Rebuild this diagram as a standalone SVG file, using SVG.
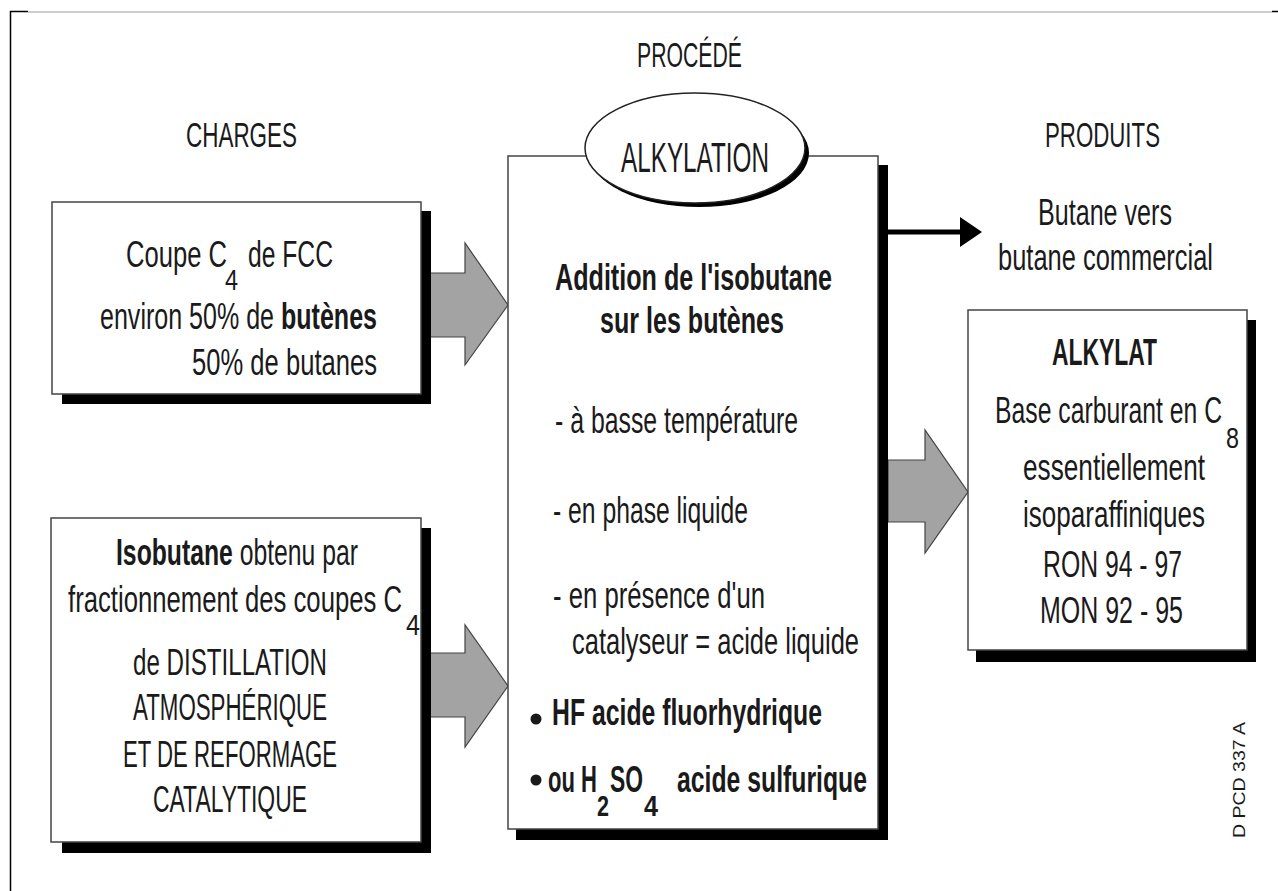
<svg xmlns="http://www.w3.org/2000/svg" width="1278" height="891" viewBox="0 0 1278 891">
<style>
.t{font-family:"Liberation Sans",Arial,sans-serif;font-size:37px;fill:#1a1a1a}
.h{font-size:35px}
.b{font-weight:bold}
.sub{font-size:30px}
.box{fill:#fff;stroke:#444;stroke-width:1.5}
.sh{fill:#000}
.garrow{fill:#a3a3a3;stroke:#444;stroke-width:1.2;stroke-linejoin:miter}
</style>
<rect x="0" y="0" width="1278" height="891" fill="#fff"/>
<g id="frame">
<line x1="28" y1="12" x2="1272" y2="12" stroke="#bdbdbd" stroke-width="1.5"/>
<line x1="10" y1="11.5" x2="28" y2="11.5" stroke="#000" stroke-width="1.5"/>
<line x1="1272" y1="11.5" x2="1278" y2="11.5" stroke="#000" stroke-width="1.5"/>
<line x1="10.5" y1="11" x2="10.5" y2="891" stroke="#000" stroke-width="1.5"/>
</g>
<g id="titles">
<text class="t h" x="637" y="67" textLength="105" lengthAdjust="spacingAndGlyphs">PROCÉDÉ</text>
<text class="t h" x="186" y="147" textLength="111" lengthAdjust="spacingAndGlyphs">CHARGES</text>
<text class="t h" x="1045" y="147" textLength="115" lengthAdjust="spacingAndGlyphs">PRODUITS</text>
</g>
<g id="connectors">
<polygon class="garrow" points="430,273 465,273 465,243 508,305 465,365 465,337 430,337"/>
<polygon class="garrow" points="430,653 465,653 465,625 508,686 465,747 465,717 430,717"/>
<polygon class="garrow" points="888,460 925,460 925,430 968,492 925,553 925,522 888,522"/>
<line x1="888" y1="232" x2="962" y2="232" stroke="#000" stroke-width="5"/>
<polygon points="960,217 982,232 960,247" fill="#000"/>
</g>
<g id="charge1">
<rect class="sh" x="62" y="211" width="369" height="193"/>
<rect class="box" x="52" y="202" width="369" height="192"/>
<text class="t"><tspan x="126" y="267" textLength="101" lengthAdjust="spacingAndGlyphs">Coupe C</tspan><tspan class="sub" x="225" y="290" textLength="13" lengthAdjust="spacingAndGlyphs">4</tspan><tspan x="248" y="267" textLength="85" lengthAdjust="spacingAndGlyphs">de FCC</tspan></text>
<text class="t" x="100" y="329" textLength="277" lengthAdjust="spacingAndGlyphs">environ 50% de <tspan class="b">butènes</tspan></text>
<text class="t" x="192" y="375" textLength="185" lengthAdjust="spacingAndGlyphs">50% de butanes</text>
</g>
<g id="charge2">
<rect class="sh" x="62" y="528" width="369" height="325"/>
<rect class="box" x="51" y="518" width="370" height="324"/>
<text class="t" x="116" y="565" textLength="242" lengthAdjust="spacingAndGlyphs"><tspan class="b">Isobutane</tspan> obtenu par</text>
<text class="t"><tspan x="68" y="612" textLength="334" lengthAdjust="spacingAndGlyphs">fractionnement des coupes C</tspan><tspan class="sub" x="406" y="635" textLength="14" lengthAdjust="spacingAndGlyphs">4</tspan></text>
<text class="t" x="133" y="675" textLength="194" lengthAdjust="spacingAndGlyphs">de DISTILLATION</text>
<text class="t" x="133" y="720" textLength="194" lengthAdjust="spacingAndGlyphs">ATMOSPHÉRIQUE</text>
<text class="t" x="123" y="767" textLength="214" lengthAdjust="spacingAndGlyphs">ET DE REFORMAGE</text>
<text class="t" x="153" y="812" textLength="154" lengthAdjust="spacingAndGlyphs">CATALYTIQUE</text>
</g>
<g id="procede">
<rect class="sh" x="516" y="165" width="372" height="675"/>
<rect class="box" x="508" y="156" width="370" height="673"/>
<ellipse cx="699" cy="153" rx="110" ry="54" fill="#000"/>
<ellipse cx="695" cy="148" rx="110" ry="55" fill="#fff" stroke="#222" stroke-width="1.5"/>
<text class="t" style="font-size:43px" x="621" y="172" textLength="148" lengthAdjust="spacingAndGlyphs">ALKYLATION</text>
<text class="t b" x="555" y="290" textLength="277" lengthAdjust="spacingAndGlyphs">Addition de l'isobutane</text>
<text class="t b" x="600" y="333" textLength="184" lengthAdjust="spacingAndGlyphs">sur les butènes</text>
<text class="t" x="555" y="433" textLength="243" lengthAdjust="spacingAndGlyphs">- à basse température</text>
<text class="t" x="553" y="523" textLength="195" lengthAdjust="spacingAndGlyphs">- en phase liquide</text>
<text class="t" x="553" y="608" textLength="212" lengthAdjust="spacingAndGlyphs">- en présence d'un</text>
<text class="t" x="572" y="654" textLength="287" lengthAdjust="spacingAndGlyphs">catalyseur = acide liquide</text>
<circle cx="536" cy="719" r="5.5" fill="#1a1a1a"/>
<text class="t b" x="552" y="725" textLength="270" lengthAdjust="spacingAndGlyphs">HF acide fluorhydrique</text>
<circle cx="536" cy="780" r="5.5" fill="#1a1a1a"/>
<text class="t b"><tspan x="548" y="792" textLength="49" lengthAdjust="spacingAndGlyphs">ou H</tspan><tspan class="sub" x="597" y="816" textLength="12" lengthAdjust="spacingAndGlyphs">2</tspan><tspan x="610" y="792" textLength="33" lengthAdjust="spacingAndGlyphs">SO</tspan><tspan class="sub" x="644" y="816" textLength="14" lengthAdjust="spacingAndGlyphs">4</tspan><tspan x="677" y="792" textLength="190" lengthAdjust="spacingAndGlyphs">acide sulfurique</tspan></text>
</g>
<g id="butane">
<text class="t" x="1038" y="225" textLength="134" lengthAdjust="spacingAndGlyphs">Butane vers</text>
<text class="t" x="998" y="270" textLength="215" lengthAdjust="spacingAndGlyphs">butane commercial</text>
</g>
<g id="alkylat">
<rect class="sh" x="976" y="320" width="280" height="342"/>
<rect class="box" x="968" y="310" width="279" height="340"/>
<text class="t b" x="1052" y="365" textLength="105" lengthAdjust="spacingAndGlyphs">ALKYLAT</text>
<text class="t"><tspan x="995" y="423" textLength="227" lengthAdjust="spacingAndGlyphs">Base carburant en C</tspan><tspan class="sub" x="1226" y="448" textLength="13" lengthAdjust="spacingAndGlyphs">8</tspan></text>
<text class="t" x="1023" y="480" textLength="182" lengthAdjust="spacingAndGlyphs">essentiellement</text>
<text class="t" x="1023" y="527" textLength="182" lengthAdjust="spacingAndGlyphs">isoparaffiniques</text>
<text class="t" x="1043" y="577" textLength="139" lengthAdjust="spacingAndGlyphs">RON 94 - 97</text>
<text class="t" x="1040" y="623" textLength="143" lengthAdjust="spacingAndGlyphs">MON 92 - 95</text>
</g>
<g id="ref">
<text class="t" x="0" y="0" style="font-size:16px" textLength="116" lengthAdjust="spacingAndGlyphs" transform="translate(1245,838) rotate(-90)">D PCD 337 A</text>
</g>
</svg>
